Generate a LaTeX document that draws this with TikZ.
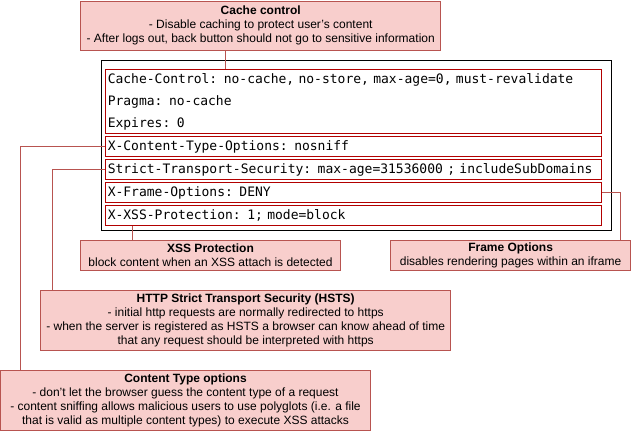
\documentclass[tikz,border=0pt]{standalone}
\usepackage{fontspec}
\setmainfont{Liberation Sans}
\setmonofont[WordSpace={1,0,0}]{DejaVu Sans Mono}
\usetikzlibrary{positioning}
\definecolor{notefill}{HTML}{F8CECC}
\definecolor{notedraw}{HTML}{B85450}
\definecolor{hdrdraw}{HTML}{B20000}
\DeclareRobustCommand\hdrfont{\ttfamily\fontsize{13}{21.7}\selectfont\spaceskip=7.826pt\relax}

\begin{document}
\begin{tikzpicture}[x=1pt,y=-1pt,line width=0.9pt,node distance=2pt,
                    note/.style={draw=notedraw,fill=notefill,align=center,inner sep=0pt,
                                 font=\fontsize{12}{14}\selectfont},
                    hdr/.style={draw=hdrdraw,text width=491.7pt,inner xsep=2pt,inner ysep=0pt,
                                minimum height=20pt,align=left,font=\hdrfont},
                    link/.style={draw=notedraw}]
  \useasboundingbox (0,0) rectangle (631,431);

  \node[draw=black,anchor=north west,minimum width=510pt,minimum height=169.7pt,inner sep=0pt]
        (headers) at (100.7,60.3) {};

  \node[hdr,anchor=north west,minimum height=64pt] (hdrcache) at (105.3,69.3)
        {Cache-Control: no-cache, no-store, max-age=0, must-revalidate\\
         Pragma: no-cache\\
         Expires: 0};
  \node[hdr] (hdrcto)   [below=of hdrcache] {X-Content-Type-Options: nosniff};
  \node[hdr] (hdrsts)   [below=of hdrcto]   {\mbox{Strict-Transport-Security: max-age=31536000 ; includeSubDomains}};
  \node[hdr] (hdrframe) [below=of hdrsts]   {X-Frame-Options: DENY};
  \node[hdr] (hdrxss)   [below=of hdrframe] {X-XSS-Protection: 1; mode=block};

  \node[note,minimum width=360pt,minimum height=49.7pt] (cache) at (260.7,25.85)
        {\textbf{Cache control}\\
         - Disable caching to protect user’s content\\
         - After logs out, back button should not go to sensitive information};
  \node[note,minimum width=260pt,minimum height=30pt] (xss) at (210.5,255)
        {\textbf{XSS Protection}\\
         block content when an XSS attach is detected};
  \node[note,minimum width=240pt,minimum height=30pt] (frame) at (510.6,255)
        {\textbf{Frame Options}\\
         disables rendering pages within an iframe};
  \node[note,minimum width=410pt,minimum height=59.6pt] (hsts) at (245.7,320.5)
        {\textbf{HTTP Strict Transport Security (HSTS)}\\
         - initial http requests are normally redirected to https\\
         - when the server is registered as HSTS a browser can know ahead of time\\
         that any request should be interpreted with https};
  \node[note,minimum width=370pt,minimum height=60pt] (cto) at (185.5,400.3)
        {\textbf{Content Type options}\\
         - don't let the browser guess the content type of a request\\
         - content sniffing allows malicious users to use polyglots (i.e. a file\\
         that is valid as multiple content types) to execute XSS attacks};

  \draw[link] ([xshift=-35.4pt]cache.south) -- ([xshift=-35.4pt]cache.south |- hdrcache.north);
  \draw[link] ([xshift=-77.8pt]xss.north) -- ([xshift=-77.8pt]xss.north |- hdrxss.south);
  \draw[link] (hdrframe.east) -| ([xshift=110.1pt]frame.north);
  \draw[link] (hdrsts.west) -| ([xshift=12pt]hsts.north west);
  \draw[link] (hdrcto.west) -| ([xshift=20.8pt]cto.north west);
\end{tikzpicture}
\end{document}
